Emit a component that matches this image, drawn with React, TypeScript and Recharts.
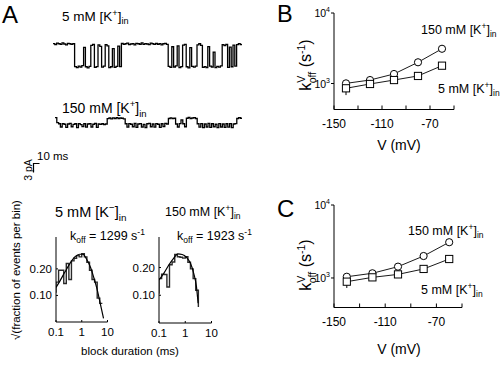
import React from 'react'
import { LineChart, Line, XAxis, YAxis, ErrorBar } from 'recharts'

const FONT = '"Liberation Sans", Arial, Helvetica, sans-serif'

// ---- panel A: single-channel records (pA), one sample every 3 ms
const SAMPLE_MS = 3
const trace5mM = [
  0.2, -0.3, 0.4, 0.1, -0.2, 0.5, 0.0, -0.4, 0.3, 0.1, -0.2, 0.2,
  -9.8, -10.3, -9.6, -10.1, -9.4, -1.5, -9.9, -10.4, -9.7, -0.6, -0.2,
  -10.2, -9.8, -0.4, -1.0, -10.1, -9.6, -0.3, -0.8, -10.3, -9.9, -2.0,
  -10.2, -9.7, -0.9, -9.8,
  0.3, -0.2, 0.1, 0.4, -0.3, 0.0, 0.2, -0.4, 0.3, 0.1, -0.1, 0.5, -0.2,
  0.2, 0.0, -0.3, 0.4, 0.1, -0.2, 0.3, -0.1, 0.2, -0.4, 0.1, 0.3, -0.2,
  -9.7, -10.2, -1.2, -10.0, -9.5, -0.8, -10.3, -9.8, -0.5, -0.2, -9.9,
  -10.4, -1.6, -9.7, -10.1, -9.6, -0.4, 0.1, -0.6, -10.2, -9.8, -10.3,
  -1.1, -9.6, -10.0, -3.5, -10.3, -9.7, -10.1, -9.5, -0.3, -0.7, -0.2,
  -10.2, -1.4, -9.9, -0.5, -9.6, -0.3,
  0.2, -0.3, 0.1,
]
const trace150mM = [
  2.8, 0.6, 0.1, -1.3, 0.2, -0.1, -1.5, 0.0, 0.3, -1.2,
  -0.2, 0.1, -1.6, 0.2, -0.3, -1.1, 0.1, -1.4, 0.0, 0.2,
  -1.3, -0.1, 0.3, -1.5, 0.0, -0.2, 0.1, -0.3, 0.0,
  2.3, 2.6, 2.2, 2.7, 2.4, 2.8, 2.3, 2.6, 2.5, 2.2,
  0.1, -1.4, 0.2, -0.1, -1.2, 0.3, -1.5, 0.0, 0.2, -1.3,
  -0.2, -1.6, 0.1, 0.3, -1.2, 0.0, -1.4, 0.2, -0.1, -1.5,
  0.1, -1.1, 0.3, 0.0,
  2.4, 2.7, 2.3, 2.5,
  0.0, -1.3, 0.2, 1.8, 0.1, -1.2,
  2.5, 2.9, 2.3, 2.6, 2.8, 2.4,
  0.1, -1.4, 0.2, -1.6, 0.0, -1.3, 0.3, -1.5, 0.1, -1.2,
  -0.1, -1.6, 0.2, -1.3, 0.0, -1.5, 0.1, -1.4, 0.2, -1.6,
  0.0, 0.2,
  2.4, 2.8, 2.5, 2.3,
]

// ---- panel A: block-duration histograms (ms, sqrt of fraction per bin)
const binEdges5 = [0.1, 0.126, 0.158, 0.2, 0.251, 0.316, 0.398, 0.501, 0.631, 0.794, 1, 1.26, 1.58, 2, 2.51, 3.16, 3.98, 5.01, 6.31]
const binSqrt5 = [0.15, 0.195, 0.195, 0.145, 0.22, 0.16, 0.23, 0.24, 0.25, 0.245, 0.257, 0.245, 0.225, 0.195, 0.16, 0.15, 0.09, 0.07]
const fitT5 = [0.1, 0.143, 0.222, 0.345, 0.538, 0.838, 1.12, 1.51, 2.16, 2.88, 3.89, 5.22, 7.0]
const fitSqrt5 = [0.13, 0.155, 0.188, 0.22, 0.245, 0.255, 0.255, 0.238, 0.207, 0.17, 0.126, 0.07, 0.014]

const binEdges150 = [0.1, 0.126, 0.158, 0.2, 0.251, 0.316, 0.398, 0.501, 0.631, 0.794, 1, 1.26, 1.58, 2, 2.51, 3.16]
const binSqrt150 = [0.16, 0.176, 0.175, 0.13, 0.21, 0.22, 0.247, 0.239, 0.237, 0.234, 0.239, 0.219, 0.195, 0.16, 0.118]
const fitT150 = [0.1, 0.152, 0.236, 0.366, 0.519, 0.762, 1.11, 1.58, 2.1, 2.67, 3.09]
const fitSqrt150 = [0.155, 0.179, 0.209, 0.234, 0.249, 0.247, 0.237, 0.215, 0.179, 0.131, 0.071]

// ---- panels B and C: k_off vs voltage
const voltages = [-140, -120, -100, -80, -60]
const koffB150 = [1005, 1120, 1365, 2000, 3110]
const koffB5 = [855, 985, 1120, 1280, 1790]
const koffB5Err = [170, 0, 0, 0, 0]
const koffC150 = [1040, 1160, 1430, 2000, 3090]
const koffC5 = [890, 1020, 1120, 1330, 1820]
const koffC5Err = [160, 0, 0, 0, 0]

const vTicks = [-150, -130, -110, -90, -70, -50]
const vLabelled = [-150, -110, -70]
const kTicks = [1000, 10000]
const durTicks = [0.1, 1, 10]
const sqrtTicks = [0.1, 0.2]

const toTrace = (vals: number[]) => vals.map((v, i) => ({ t: i * SAMPLE_MS, v }))
const toStairs = (edges: number[], vals: number[]) =>
  edges.map((x, i) => ({ x, y: i < vals.length ? vals[i] : vals[vals.length - 1] }))
const toFit = (xs: number[], ys: number[]) => xs.map((x, i) => ({ x, y: ys[i] }))
const toKoff = (ks: number[], err?: number[]) =>
  voltages.map((v, i) => ({ v, k: ks[i], err: err ? [err[i], 0] : [0, 0] }))

// place a chart so its plot area lands on (x0,y0)-(x1,y1)
function frame(x0: number, y0: number, x1: number, y1: number, padL = 40, padB = 30, pad = 12) {
  return {
    pos: { position: 'absolute' as const, left: x0 - padL, top: y0 - pad },
    width: x1 - x0 + padL + pad,
    height: y1 - y0 + pad + padB,
    margin: { top: pad, right: pad, bottom: 0, left: 0 },
    padL,
    padB,
  }
}

const PowTick = (p: any) => (
  <g>
    <line x1={p.x} x2={p.x - 3} y1={p.y} y2={p.y} stroke="#000" />
    <text x={p.x - 4} y={p.y + 4} textAnchor="end" fontSize={10.5} fontFamily={FONT} fill="#000">
      10<tspan dy={-5} fontSize={7}>{Math.round(Math.log10(p.payload.value))}</tspan>
    </text>
  </g>
)

const VTick = (p: any) => (
  <g>
    <line x1={p.x} x2={p.x} y1={p.y} y2={p.y - 4} stroke="#000" />
    {vLabelled.includes(p.payload.value) && (
      <text x={p.x} y={p.y + 18} textAnchor="middle" fontSize={12} fontFamily={FONT} fill="#000">
        {p.payload.value}
      </text>
    )}
  </g>
)

const DurTick = (p: any) => (
  <g>
    <line x1={p.x} x2={p.x} y1={p.y} y2={p.y - 2} stroke="#000" />
    <text x={p.x} y={p.y + 14} textAnchor="middle" fontSize={11.5} fontFamily={FONT} fill="#000">
      {p.payload.value}
    </text>
  </g>
)

const SqrtTick = (p: any) => (
  <g>
    <line x1={p.x} x2={p.x + 2} y1={p.y} y2={p.y} stroke="#000" />
    <text x={p.x - 4} y={p.y + 4} textAnchor="end" fontSize={11.5} fontFamily={FONT} fill="#000">
      {p.payload.value.toFixed(2)}
    </text>
  </g>
)

const SquareDot = (p: any) => (
  <rect key={p.index} x={p.cx - 3.6} y={p.cy - 3.6} width={7.2} height={7.2} fill="#fff" stroke="#000" strokeWidth={1} />
)

function TraceChart({ vals, left, top, width, height, yDomain }: any) {
  const data = toTrace(vals)
  return (
    <div style={{ position: 'absolute', left, top }}>
      <LineChart width={width} height={height} margin={{ top: 0, right: 0, bottom: 0, left: 0 }}>
        <XAxis type="number" dataKey="t" domain={[0, data[data.length - 1].t]} hide />
        <YAxis type="number" domain={yDomain} hide />
        <Line data={data} dataKey="v" type="stepAfter" stroke="#000" strokeWidth={1.3} dot={false} isAnimationActive={false} />
      </LineChart>
    </div>
  )
}

function HistChart({ f, edges, vals, fitT, fitY, yTop, lead, tail }: any) {
  const stairs = toStairs(edges, vals)
  if (lead != null) stairs.unshift({ x: edges[0], y: lead })
  if (tail != null) stairs.push({ x: edges[edges.length - 1], y: tail })
  return (
    <div style={f.pos}>
      <LineChart width={f.width} height={f.height} margin={f.margin}>
        <XAxis type="number" dataKey="x" scale="log" domain={[0.1, 10]} ticks={durTicks} interval={0}
          allowDataOverflow tick={DurTick} tickLine={false} tickSize={0} tickMargin={0}
          height={f.padB} axisLine={{ stroke: '#000' }} />
        <YAxis type="number" domain={[0, yTop]} ticks={sqrtTicks} interval={0} allowDataOverflow
          tick={SqrtTick} tickLine={false} tickSize={0} tickMargin={0}
          width={f.padL} axisLine={{ stroke: '#000' }} />
        <Line data={stairs} dataKey="y" type="stepAfter" stroke="#2a2a2a" strokeWidth={1.4} dot={false} isAnimationActive={false} />
        <Line data={toFit(fitT, fitY)} dataKey="y" type="monotone" stroke="#000" strokeWidth={1.2} dot={false} isAnimationActive={false} />
      </LineChart>
    </div>
  )
}

function KoffChart({ f, yLow, k150, k5, err5 }: any) {
  return (
    <div style={f.pos}>
      <LineChart width={f.width} height={f.height} margin={f.margin}>
        <XAxis type="number" dataKey="v" domain={[-150, -50]} ticks={vTicks} interval={0} allowDataOverflow
          tick={VTick} tickLine={false} tickSize={0} tickMargin={0}
          height={f.padB} axisLine={{ stroke: '#000' }} />
        <YAxis type="number" scale="log" domain={[yLow, 10000]} ticks={kTicks} interval={0} allowDataOverflow
          tick={PowTick} tickLine={false} tickSize={0} tickMargin={0}
          width={f.padL} axisLine={{ stroke: '#000' }} />
        <Line data={toKoff(k150)} dataKey="k" stroke="#000" strokeWidth={0.9}
          dot={{ r: 3.6, fill: '#fff', stroke: '#000', strokeWidth: 1 }} isAnimationActive={false} />
        <Line data={toKoff(k5, err5)} dataKey="k" stroke="#000" strokeWidth={0.9}
          dot={SquareDot} isAnimationActive={false}>
          <ErrorBar dataKey="err" direction="y" width={0} stroke="#000" strokeWidth={1} />
        </Line>
      </LineChart>
    </div>
  )
}

function KLabel({ x, y, conc, size, sign = '+' }: any) {
  const s = size * 0.68
  return (
    <text x={x} y={y} fontSize={size} fontFamily={FONT} fill="#000">
      {conc} mM [K<tspan dy={-size * 0.4} fontSize={s}>{sign}</tspan>
      <tspan dy={size * 0.4}>]</tspan>
      <tspan dy={size * 0.25} fontSize={s}>in</tspan>
    </text>
  )
}

function KoffLabel({ x, y, value }: any) {
  return (
    <text x={x} y={y} fontSize={12.5} fontFamily={FONT} fill="#000">
      k<tspan dy={3} fontSize={8.5}>off</tspan>
      <tspan dy={-3}> = {value} s</tspan>
      <tspan dy={-5} fontSize={8.5}>-1</tspan>
    </text>
  )
}

function KvLabel({ x, y }: any) {
  return (
    <text x={x} y={y} fontSize={16} fontFamily={FONT} fill="#000" textAnchor="middle"
      transform={`rotate(-90 ${x} ${y})`}>
      k<tspan dy={-6.5} fontSize={10.5}>V</tspan>
      <tspan dx={-7} dy={11} fontSize={10.5}>off</tspan>
      <tspan dy={-4.5}> (s</tspan>
      <tspan dy={-6.5} fontSize={10.5}>-1</tspan>
      <tspan dy={6.5}>)</tspan>
    </text>
  )
}

export default function App() {
  const fB = frame(334, 13, 454, 109.5)
  const fC = frame(334, 205, 462, 307.5)
  const fH1 = frame(56, 237, 107.5, 322)
  const fH2 = frame(158.5, 237, 211, 323)
  return (
    <div style={{ position: 'absolute', left: 0, top: 0, width: 500, height: 369, background: '#fff', overflow: 'hidden' }}>
      <TraceChart vals={trace5mM} left={52.7} top={34} width={189} height={40} yDomain={[-13.05, 4.35]} />
      <TraceChart vals={trace150mM} left={55} top={110} width={187.2} height={24} yDomain={[-4.35, 6.09]} />

      <HistChart f={fH1} edges={binEdges5} vals={binSqrt5} fitT={fitT5} fitY={fitSqrt5} yTop={0.32} lead={0.11} />
      <HistChart f={fH2} edges={binEdges150} vals={binSqrt150} fitT={fitT150} fitY={fitSqrt150} yTop={0.31} lead={0.105} tail={0.058} />

      <KoffChart f={fB} yLow={428} k150={koffB150} k5={koffB5} err5={koffB5Err} />
      <KoffChart f={fC} yLow={394} k150={koffC150} k5={koffC5} err5={koffC5Err} />

      <svg width={500} height={369} style={{ position: 'absolute', left: 0, top: 0, pointerEvents: 'none' }}>
        <g fontFamily={FONT} fill="#000">
          <text x={2} y={23} fontSize={24}>A</text>
          <text x={277} y={21.5} fontSize={23.5}>B</text>
          <text x={277} y={216.5} fontSize={24}>C</text>

          <KLabel x={62} y={21} conc="5" size={13.5} />
          <KLabel x={62} y={113} conc="150" size={14} />

          <path d="M39.5 163.5 H33.5 V172.5" fill="none" stroke="#000" strokeWidth={1.2} />
          <text x={37} y={160} fontSize={11.5}>10 ms</text>
          <text x={32} y={170} fontSize={10.5} textAnchor="middle" transform="rotate(-90 32 170)">3 pA</text>

          <KLabel x={55} y={217} conc="5" size={14.5} sign="−" />
          <KLabel x={165} y={216} conc="150" size={12.5} />
          <KoffLabel x={70} y={240} value={1299} />
          <KoffLabel x={177} y={240} value={1923} />
          <text x={19.5} y={270} fontSize={11.5} textAnchor="middle" transform="rotate(-90 19.5 270)">
            √(fraction of events per bin)
          </text>
          <text x={130} y={355} fontSize={11.5} textAnchor="middle">block duration (ms)</text>

          <KLabel x={421} y={33.5} conc="150" size={12.5} />
          <KLabel x={438} y={93} conc="5" size={12.5} />
          <KvLabel x={311} y={65} />
          <text x={399} y={150} fontSize={14} textAnchor="middle">V (mV)</text>

          <KLabel x={408} y={235} conc="150" size={12.5} />
          <KLabel x={421} y={294} conc="5" size={12.5} />
          <KvLabel x={311} y={265} />
          <text x={399} y={353.5} fontSize={14} textAnchor="middle">V (mV)</text>
        </g>
      </svg>
    </div>
  )
}
